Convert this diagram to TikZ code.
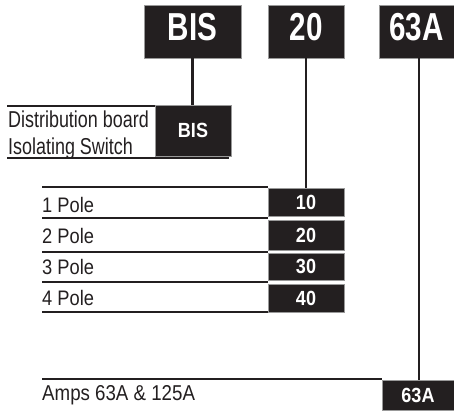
\documentclass[tikz,border=0pt]{standalone}
\usepackage{fontspec}
\setmainfont{Liberation Sans}
\newfontfamily\cbig[FakeStretch=0.76]{Liberation Sans}
\newfontfamily\csmall[FakeStretch=0.88]{Liberation Sans}
\newfontfamily\ctxtA[FakeStretch=0.78]{Liberation Sans}
\newfontfamily\ctxtB[FakeStretch=0.87]{Liberation Sans}
\definecolor{boxblk}{HTML}{231F20}
\begin{document}
\begin{tikzpicture}[x=1pt,y=-1pt,
  bigbox/.style={fill=boxblk,draw=black!40,line width=0.4pt,text=white,inner sep=0pt,
    font=\cbig\bfseries\fontsize{39}{39}\selectfont,text height=28pt,text depth=11pt,
    minimum height=53pt},
  smallbox/.style={fill=boxblk,draw=black!40,line width=0.4pt,text=white,inner sep=0pt,
    font=\csmall\bfseries\fontsize{20.5}{20.5}\selectfont},
  conn/.style={line width=2.6pt,draw=boxblk},
  rule/.style={line width=1.5pt,draw=boxblk},
  lblA/.style={anchor=base west,inner sep=0pt,text=boxblk,font=\ctxtA\fontsize{23}{23}\selectfont},
  lblB/.style={anchor=base west,inner sep=0pt,text=boxblk,font=\ctxtB\fontsize{21}{21}\selectfont},
  lblC/.style={anchor=base west,inner sep=0pt,text=boxblk,font=\ctxtB\fontsize{21.5}{21.5}\selectfont}]
\useasboundingbox (0,0) rectangle (454,410);
% top boxes
\node[bigbox,minimum width=97pt] (bisTop) at (192.5,31.5) {BIS};
\node[bigbox,minimum width=76pt] (twTop) at (306,31.5) {20};
\node[bigbox,minimum width=75pt] (ampTop) at (416.5,31.5) {63A};
% option boxes
\node[smallbox,minimum width=76pt,minimum height=51pt] (bisBox) at (193,130.5) {BIS};
\node[smallbox,minimum width=76pt,minimum height=28pt] (p10) at (306,202) {10};
\node[smallbox,minimum width=76pt,minimum height=30pt] (p20) at (306,235) {20};
\node[smallbox,minimum width=76pt,minimum height=27pt] (p30) at (306,266.5) {30};
\node[smallbox,minimum width=76pt,minimum height=28pt] (p40) at (306,298) {40};
\node[smallbox,minimum width=72pt,minimum height=30pt] (amp) at (418,395) {63A};
% connectors
\draw[conn] (bisTop.south) -- (bisTop.south |- bisBox.north);
\draw[conn] (twTop.south) -- (p10.north);
\draw[conn] (419,58) coordinate (ampS) -- (ampS |- amp.north);
% rules
\coordinate (r1a) at (7,106);
\coordinate (r1b) at (7,158);
\coordinate (r1c) at (229,158);
\draw[rule] (r1a) -- (r1a -| bisBox.west);
\draw[rule] (r1b) -- (r1c);
\foreach \yy/\nm in {187/a,218/b,252/c,282/d,312/e}{
  \coordinate (pl\nm) at (42,\yy);
  \draw[rule] (pl\nm) -- (pl\nm -| p10.west);
}
\coordinate (ampL) at (42,379);
\draw[rule] (ampL) -- (ampL -| amp.west);
% labels
\node[lblA] (t1) at (8,127) {Distribution board};
\node[lblA] (t2) at (8,154) {Isolating Switch};
\node[lblB] (q1) at (42,212) {1 Pole};
\node[lblB] (q2) at (42,243) {2 Pole};
\node[lblB] (q3) at (42,274) {3 Pole};
\node[lblB] (q4) at (42,305) {4 Pole};
\node[lblC] (q5) at (42,400.5) {Amps 63A \& 125A};
\end{tikzpicture}
\end{document}
